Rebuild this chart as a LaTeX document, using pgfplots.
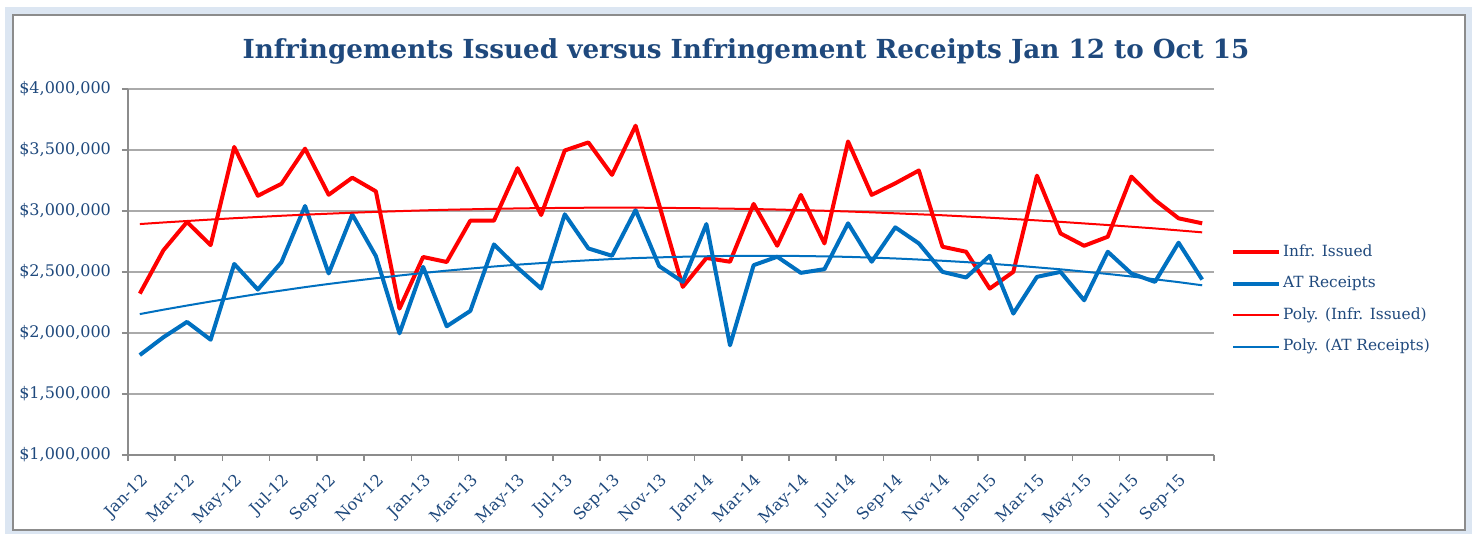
\documentclass[border=0pt]{standalone}
\usepackage{fontspec}
\setmainfont{DejaVu Serif}
\usepackage{pgfplots}
\usepackage{pgfplotstable}
\pgfplotsset{compat=1.18}
\definecolor{navy}{RGB}{31,73,125}
\definecolor{xlred}{RGB}{255,0,0}
\definecolor{xlblue}{RGB}{0,112,192}
\definecolor{bandc}{RGB}{220,230,242}
\definecolor{gridc}{RGB}{170,170,170}
\definecolor{axisc}{RGB}{140,140,140}

\pgfplotstableread{
x issued receipts polyi polyr
0 2323000 1819000 2893000 2155000
1 2678000 1965000 2906000 2191000
2 2910000 2091000 2918000 2225000
3 2720000 1945000 2930000 2258000
4 3525000 2566000 2941000 2289000
5 3125000 2356000 2951000 2320000
6 3223000 2580000 2961000 2348000
7 3511000 3041000 2970000 2376000
8 3133000 2488000 2978000 2402000
9 3273000 2971000 2986000 2426000
10 3161000 2630000 2993000 2449000
11 2200000 1997000 2999000 2471000
12 2623000 2542000 3005000 2492000
13 2582000 2055000 3010000 2511000
14 2921000 2181000 3014000 2528000
15 2921000 2726000 3018000 2545000
16 3351000 2535000 3021000 2560000
17 2967000 2364000 3024000 2573000
18 3496000 2973000 3025000 2585000
19 3562000 2693000 3027000 2596000
20 3296000 2633000 3027000 2606000
21 3699000 3008000 3027000 2614000
22 3050000 2548000 3026000 2620000
23 2378000 2419000 3024000 2625000
24 2615000 2893000 3022000 2629000
25 2584000 1899000 3019000 2632000
26 3058000 2556000 3016000 2633000
27 2715000 2625000 3012000 2633000
28 3132000 2493000 3007000 2631000
29 2734000 2523000 3002000 2628000
30 3570000 2899000 2996000 2624000
31 3132000 2584000 2989000 2618000
32 3227000 2866000 2981000 2611000
33 3332000 2734000 2973000 2602000
34 2707000 2501000 2965000 2592000
35 2666000 2455000 2955000 2581000
36 2364000 2633000 2945000 2568000
37 2501000 2159000 2934000 2554000
38 3290000 2460000 2923000 2538000
39 2816000 2501000 2911000 2522000
40 2715000 2268000 2898000 2503000
41 2789000 2666000 2885000 2484000
42 3282000 2488000 2871000 2463000
43 3090000 2419000 2857000 2440000
44 2940000 2740000 2841000 2417000
45 2899000 2438000 2825000 2391000
}\datatable

\begin{document}
\begin{tikzpicture}[x=1pt,y=1pt]
\path[fill=white] (0,0) rectangle (736,267);
\fill[bandc] (2.5,0) rectangle (736,263.5);
\filldraw[fill=white, draw=axisc, line width=1pt] (6.5,2) rectangle (732.5,259.5);
\node[font=\bfseries\fontsize{13.1}{15}\selectfont, text=navy] at (373,241.5) {Infringements Issued versus Infringement Receipts Jan 12 to Oct 15};
\begin{axis}[
  at={(64pt,39.5pt)}, anchor=south west,
  scale only axis, width=543pt, height=183pt,
  xmin=-0.5, xmax=45.5, ymin=1000000, ymax=4000000,
  axis lines*=left,
  axis line style={draw=axisc, line width=0.9pt},
  xtick={-0.5,1.5,...,45.5}, xticklabels={},
  extra x ticks={0,2,...,44},
  extra x tick labels={Jan-12,Mar-12,May-12,Jul-12,Sep-12,Nov-12,Jan-13,Mar-13,May-13,Jul-13,Sep-13,Nov-13,Jan-14,Mar-14,May-14,Jul-14,Sep-14,Nov-14,Jan-15,Mar-15,May-15,Jul-15,Sep-15},
  extra x tick style={major tick length=0pt, grid=none},
  tick align=outside, major tick length=3pt,
  tick style={draw=axisc, line width=0.8pt},
  xticklabel style={rotate=45, anchor=north east, font=\fontsize{8.1}{10}\selectfont, text=navy, inner sep=1pt, yshift=-5pt, xshift=-5pt},
  ytick={1000000,1500000,2000000,2500000,3000000,3500000,4000000},
  yticklabels={{\$1,000,000},{\$1,500,000},{\$2,000,000},{\$2,500,000},{\$3,000,000},{\$3,500,000},{\$4,000,000}},
  yticklabel style={font=\fontsize{8}{10}\selectfont, text=navy, xshift=-2pt},
  ymajorgrids, grid style={draw=gridc, line width=0.8pt},
  scaled y ticks=false,
  clip=false,
  legend style={at={(1.0098,0.425)}, anchor=west, draw=none, fill=none,
    font=\fontsize{7.7}{9}\selectfont, text=navy,
    nodes={inner sep=1pt, text height=6pt, text depth=2pt},
    row sep=5.75pt},
  legend cell align=left,
  legend image code/.code={\draw[#1] (0pt,0pt) -- (23pt,0pt);},
]
\addplot[xlred, line width=2pt, line join=round] table[x=x,y=issued] {\datatable};
\addlegendentry{Infr. Issued}
\addplot[xlblue, line width=2pt, line join=round] table[x=x,y=receipts] {\datatable};
\addlegendentry{AT Receipts}
\addplot[xlred, line width=1pt] table[x=x,y=polyi] {\datatable};
\addlegendentry{Poly. (Infr. Issued)}
\addplot[xlblue, line width=1pt] table[x=x,y=polyr] {\datatable};
\addlegendentry{Poly. (AT Receipts)}
\end{axis}
\end{tikzpicture}
\end{document}
